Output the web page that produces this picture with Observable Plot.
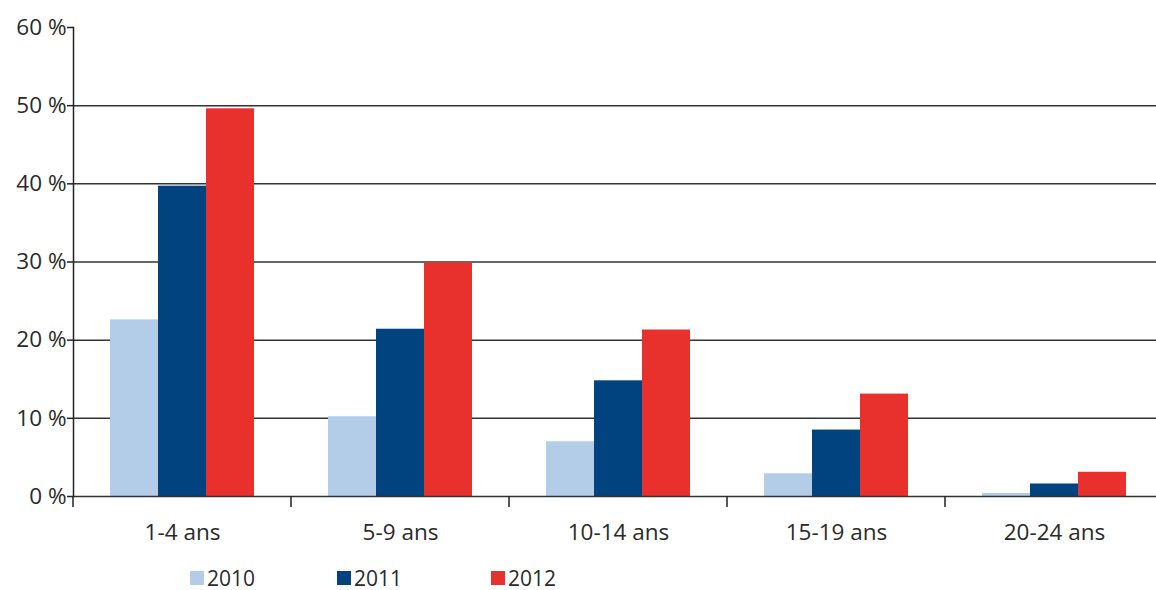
<!DOCTYPE html>
<html>
<head>
<meta charset="utf-8">
<script src="https://cdn.jsdelivr.net/npm/d3@7"></script>
<script src="https://cdn.jsdelivr.net/npm/@observablehq/plot@0.6"></script>
<style>
  html, body { margin: 0; padding: 0; background: #fff; }
  body { width: 1156px; height: 590px; overflow: hidden; font-family: "Open Sans", sans-serif; }
  #chart { width: 1165px; }
  #chart svg { display: block; max-width: none !important; }
  .legend { display: flex; align-items: center; margin-left: 190px; height: 40px; margin-top: 8px; font-size: 21px; color: #2a2a2a; }
  .legend .item { display: flex; align-items: center; }
  .legend .sw { width: 14px; height: 14px; margin-right: 3px; }
</style>
</head>
<body>
<div id="chart"></div>
<script>
const ages = ["1-4 ans", "5-9 ans", "10-14 ans", "15-19 ans", "20-24 ans"];
const years = ["2010", "2011", "2012"];
const v2010 = [22.6, 10.2, 7.0, 2.9, 0.4];
const v2011 = [39.7, 21.4, 14.8, 8.5, 1.6];
const v2012 = [49.6, 29.9, 21.3, 13.1, 3.1];
const yTicks = [0, 10, 20, 30, 40, 50, 60];
const gridTicks = [10, 20, 30, 40, 50];
const colors = ["#b3cde9", "#00437f", "#e8302d"];

const series = [v2010, v2011, v2012];
const data = [];
ages.forEach((a, i) => years.forEach((y, j) => data.push({age: a, year: y, value: series[j][i]})));

function boundaryTick(index, scales, values, dimensions) {
  const y0 = scales.y(0);
  const x0 = dimensions.marginLeft;
  const g = d3.create("svg:g");
  g.append("line")
    .attr("x1", x0).attr("x2", x0)
    .attr("y1", y0).attr("y2", y0 + 11)
    .attr("stroke", "#222").attr("stroke-width", 1.5);
  return g.node();
}

const chart = Plot.plot({
  width: 1165,
  height: 550,
  marginLeft: 71,
  marginRight: 0,
  marginTop: 27,
  marginBottom: 54,
  style: {fontFamily: "Open Sans, sans-serif", fontSize: "22.5px", color: "#2a2a2a", background: "#fff", maxWidth: "none"},
  fx: {domain: ages, padding: 0, label: null},
  x: {domain: years, paddingInner: 0, paddingOuter: 0.75, axis: null},
  y: {domain: [0, 60], label: null},
  color: {domain: years, range: colors},
  marks: [
    Plot.ruleY(gridTicks, {stroke: "#333", strokeWidth: 1.5}),
    Plot.barY(data, {fx: "age", x: "year", y: "value", fill: "year"}),
    Plot.ruleY([0], {stroke: "#333", strokeWidth: 1.5}),
    Plot.frame({anchor: "left", facetAnchor: "left", stroke: "#222", strokeWidth: 1.5}),
    boundaryTick,
    Plot.axisY({ticks: yTicks, tickFormat: d => d + " %", tickSize: 6, tickPadding: 1, stroke: "#222", strokeWidth: 1.5, fill: "#2a2a2a", label: null}),
    Plot.axisFx({anchor: "bottom", tickSize: 0, tickPadding: 28, fill: "#2a2a2a", label: null})
  ]
});
document.getElementById("chart").appendChild(chart);

const legend = document.createElement("div");
legend.className = "legend";
const widths = [147, 154, 100];
years.forEach((y, i) => {
  const item = document.createElement("div");
  item.className = "item";
  item.style.width = widths[i] + "px";
  const sw = document.createElement("span");
  sw.className = "sw";
  sw.style.background = colors[i];
  const t = document.createElement("span");
  t.textContent = y;
  item.appendChild(sw);
  item.appendChild(t);
  legend.appendChild(item);
});
document.body.appendChild(legend);
</script>
</body>
</html>
